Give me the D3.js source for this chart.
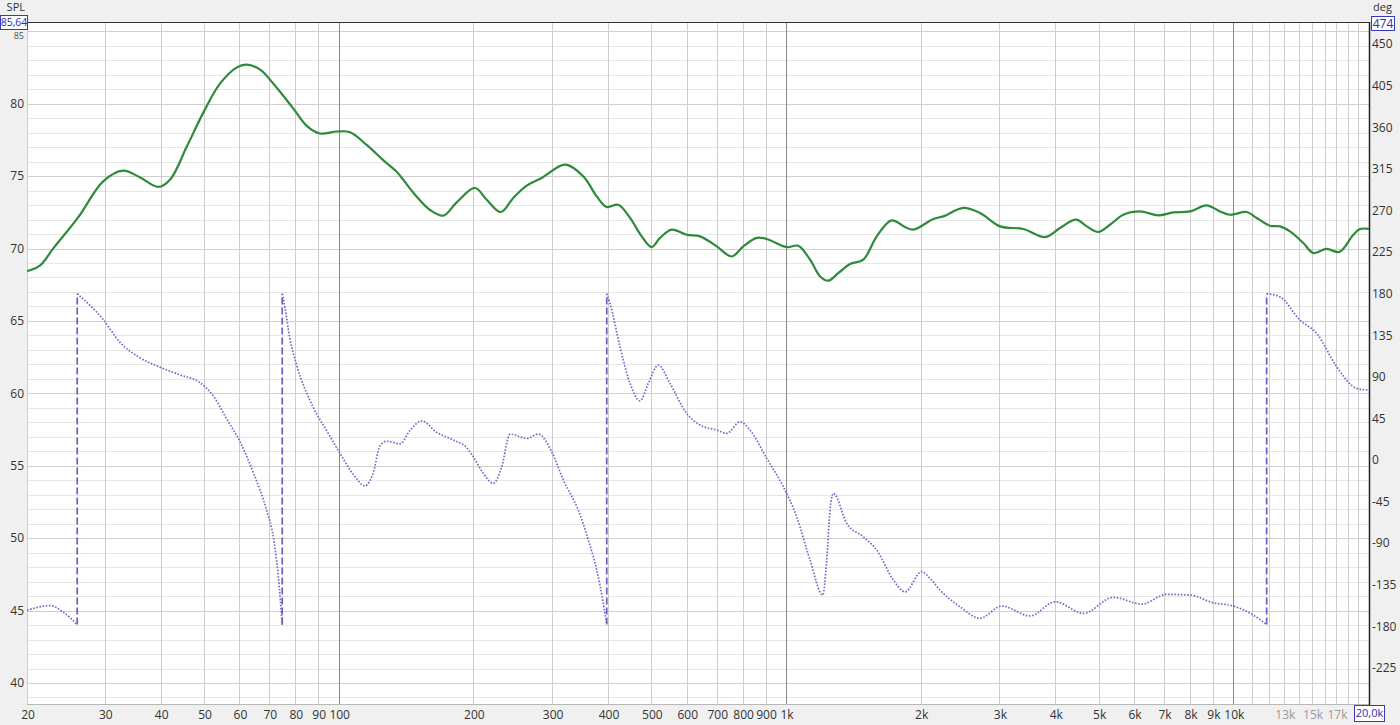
<!DOCTYPE html>
<html><head><meta charset="utf-8">
<script src="https://cdn.jsdelivr.net/npm/d3@7"></script>
<style>
html,body{margin:0;padding:0;background:#f0f0f0;}
svg{display:block;font-family:"Open Sans","Noto Sans",sans-serif;}
</style></head>
<body>
<svg id="chart" width="1400" height="725"></svg>
<script>
// ---------- DATA ----------
const splFreq = [20, 21.4, 22.9, 26.0, 29.6, 32.8, 35.8, 39.3, 41.8, 45.5, 49.6, 54.0, 58.9, 62.0, 66.4, 71.1, 78.8, 84.4, 90.4, 98.5, 105.5, 114.9, 125.1, 134.1, 146.1, 159.2, 170.5, 182.6, 200.7, 213.1, 229.1, 244.4, 261.9, 283.0, 319.0, 350.4, 375.5, 395.4, 419.7, 445.7, 473.3, 498.3, 520.1, 552.3, 596.7, 639.1, 696.6, 752.3, 798.5, 855.7, 900.9, 998.6, 1060, 1126, 1186, 1237, 1303, 1383, 1481, 1587, 1714, 1836, 1916, 2124, 2236, 2479, 2701, 2994, 3375, 3774, 4077, 4426, 4677, 4965, 5273, 5647, 6153, 6762, 7304, 7960, 8672, 9290, 9780, 10656, 11220, 12012, 12648, 13316, 14260, 15014, 16088, 17168, 18448, 19094, 20000];
const splDb = [68.43, 68.83, 70.01, 72.13, 74.64, 75.38, 74.90, 74.25, 74.77, 77.02, 79.40, 81.38, 82.51, 82.70, 82.35, 81.38, 79.66, 78.47, 77.94, 78.08, 78.03, 77.15, 76.10, 75.30, 73.85, 72.66, 72.27, 73.19, 74.18, 73.37, 72.52, 73.49, 74.34, 74.87, 75.79, 74.98, 73.60, 72.87, 73.02, 72.11, 70.84, 70.10, 70.73, 71.30, 70.95, 70.84, 70.15, 69.45, 70.15, 70.73, 70.66, 70.10, 70.19, 69.23, 68.07, 67.78, 68.31, 68.93, 69.23, 70.84, 71.94, 71.48, 71.30, 72.04, 72.22, 72.80, 72.45, 71.53, 71.35, 70.79, 71.42, 71.99, 71.53, 71.14, 71.64, 72.33, 72.56, 72.29, 72.49, 72.56, 72.98, 72.56, 72.33, 72.52, 72.11, 71.57, 71.53, 71.18, 70.38, 69.69, 69.97, 69.76, 70.95, 71.35, 71.35];

const phaseFreq = [20, 22.5, 24.1, 25.9, 25.9, 29.6, 32.3, 35.2, 39.7, 44.0, 48.7, 52.2, 55.9, 59.9, 64.1, 68.7, 71.1, 72.9, 74.4, 74.4, 75.5, 77.4, 80.2, 87.3, 93.5, 100.2, 107.3, 113.9, 118.9, 123.1, 127.4, 136.4, 143.6, 152.5, 164.8, 179.5, 192.3, 198.9, 209.5, 220.5, 230.3, 240.3, 261.9, 278.1, 297.9, 316.2, 341.5, 359.6, 375.5, 388.5, 395.4, 395.4, 402.0, 423.4, 445.7, 469.2, 489.7, 515.5, 547.5, 596.7, 639.1, 696.6, 733.1, 785.1, 826.7, 900.9, 981.3, 1051, 1126, 1202, 1227, 1248, 1270, 1360, 1481, 1587, 1729, 1836, 2000, 2088, 2198, 2437, 2701, 3020, 3493, 3974, 4596, 5363, 6207, 7060, 7960, 8972, 9948, 11026, 11810, 11810, 12648, 14020, 15280, 16940, 18772, 20000];
const phaseDeg = [-162.5, -157.5, -164.5, -178, 180, 152.1, 127.3, 112.8, 100.4, 92.1, 83.8, 69.3, 44.5, 19.7, -13.5, -54.8, -83.8, -125.3, -178, 180, 164.5, 131.4, 102.4, 56.9, 32.0, 7.2, -15.6, -27.9, -13.5, 15.5, 20.4, 17.6, 32.0, 42.4, 30.0, 21.7, 13.4, 3.6, -14.4, -25.2, -7.2, 28.1, 23.5, 28.1, 9.0, -21.6, -54.1, -86.5, -119.0, -155.0, -178, 180, 169.5, 122.6, 83.0, 64.1, 83.0, 102.8, 83.0, 50.5, 37.9, 32.5, 28.9, 41.4, 32.5, 1.8, -28.9, -61.3, -108.2, -146.0, -108.2, -54.1, -36.0, -68.5, -83.0, -97.4, -129.8, -142.5, -120.8, -128.0, -140.6, -158.7, -171.2, -157.9, -168.7, -153.3, -165.8, -148.5, -155.8, -145.3, -146.0, -154.4, -157.9, -167.7, -178, 180, 176.6, 151.4, 137.1, 100.9, 77.6, 75.7];

const xTickVals = [20, 30, 40, 50, 60, 70, 80, 90, 100, 200, 300, 400, 500, 600, 700, 800, 900, 1000, 2000, 3000, 4000, 5000, 6000, 7000, 8000, 9000, 10000, 13000, 15000, 17000];
const xTickLabels = ["20", "30", "40", "50", "60", "70", "80", "90", "100", "200", "300", "400", "500", "600", "700", "800", "900", "1k", "2k", "3k", "4k", "5k", "6k", "7k", "8k", "9k", "10k", "13k", "15k", "17k"];
const xFaintLabels = ["13k", "15k", "17k"];
const xGridVals = [30, 40, 50, 60, 70, 80, 90, 100, 200, 300, 400, 500, 600, 700, 800, 900, 1000, 2000, 3000, 4000, 5000, 6000, 7000, 8000, 9000, 10000, 11000, 12000, 13000, 14000, 15000, 16000, 17000, 18000, 19000];
const xMajorGrid = [100, 1000, 10000];
const splTicks = [40, 45, 50, 55, 60, 65, 70, 75, 80];
const splHiddenTick = 85;
const degTicks = [-225, -180, -135, -90, -45, 0, 45, 90, 135, 180, 225, 270, 315, 360, 405, 450];
const splTopLabel = "85,64", degTopLabel = "474", freqEndLabel = "20,0k";

// ---------- LAYOUT ----------
const L = 27, R = 1369, T = 22, B = 704;
const svg = d3.select("#chart");
const x = d3.scaleLog().domain([20, 20000]).range([L, R]);
const yL = d3.scaleLinear().domain([38.55, 85.64]).range([B, T]);
const yR = d3.scaleLinear().domain([-263.9, 474]).range([B, T]);

svg.append("rect").attr("x", L).attr("y", T).attr("width", R - L).attr("height", B - T).attr("fill", "#ffffff");

const grid = svg.append("g");
d3.range(39, 86, 1).forEach(v => {
  if (v % 5 === 0) return;
  grid.append("line").attr("x1", L).attr("x2", R).attr("y1", Math.round(yL(v)) + 0.5).attr("y2", Math.round(yL(v)) + 0.5)
    .attr("stroke", "#e6e6e6").attr("stroke-width", 1);
});
splTicks.concat([splHiddenTick]).forEach(v => {
  grid.append("line").attr("x1", L).attr("x2", R).attr("y1", Math.round(yL(v)) + 0.5).attr("y2", Math.round(yL(v)) + 0.5)
    .attr("stroke", "#cfcfcf").attr("stroke-width", 1);
});
xGridVals.forEach(v => {
  const major = xMajorGrid.includes(v);
  grid.append("line").attr("x1", Math.round(x(v)) - 0.5).attr("x2", Math.round(x(v)) - 0.5).attr("y1", T).attr("y2", B)
    .attr("stroke", major ? "#8a8a8a" : "#cdcdcd").attr("stroke-width", 1);
});
grid.append("line").attr("x1", L + 0.5).attr("x2", L + 0.5).attr("y1", T).attr("y2", B).attr("stroke", "#cdcdcd");
grid.append("line").attr("x1", L).attr("x2", R).attr("y1", B + 0.5).attr("y2", B + 0.5).attr("stroke", "#b8b8b8");
svg.append("line").attr("x1", L).attr("x2", R + 1).attr("y1", T + 0.5).attr("y2", T + 0.5).attr("stroke", "#303030").attr("stroke-width", 1.2);
svg.append("line").attr("x1", R + 0.5).attr("x2", R + 0.5).attr("y1", T).attr("y2", B + 1).attr("stroke", "#202020").attr("stroke-width", 1.5);

// ---------- AXES TEXT ----------
const txt = svg.append("g").attr("font-size", 12).attr("fill", "#333");
splTicks.forEach(v => {
  txt.append("text").attr("x", 24).attr("y", yL(v)).attr("dy", "0.35em").attr("text-anchor", "end").text(v);
});
// "85" sits just below the value box, partly visible as in the original
txt.append("text").attr("x", 24).attr("y", 38.5).attr("text-anchor", "end").attr("font-size", 9).attr("fill", "#555").text(splHiddenTick);
degTicks.forEach(v => {
  txt.append("text").attr("x", 1372).attr("y", yR(v)).attr("dy", "0.35em").attr("text-anchor", "start").text(v);
});
xTickVals.forEach((v, i) => {
  const lab = xTickLabels[i];
  txt.append("text").attr("x", x(v) + (i === 0 ? 1 : 0)).attr("y", 719).attr("text-anchor", "middle")
    .attr("fill", xFaintLabels.includes(lab) ? "#9a9a9a" : "#333").text(lab);
});
svg.append("text").attr("x", 25).attr("y", 11).attr("text-anchor", "end").attr("font-size", 11).attr("fill", "#333").text("SPL");
svg.append("text").attr("x", 1373).attr("y", 11).attr("text-anchor", "start").attr("font-size", 11).attr("fill", "#333").text("deg");

function boxLabel(cx, cy, w, h, s, fs) {
  svg.append("rect").attr("x", cx).attr("y", cy).attr("width", w).attr("height", h)
    .attr("fill", "#ffffff").attr("stroke", "#3a3ab8").attr("stroke-width", 1);
  svg.append("text").attr("x", cx + w / 2).attr("y", cy + h / 2).attr("dy", "0.36em").attr("text-anchor", "middle")
    .attr("font-size", fs).attr("fill", "#2b2bb0").text(s);
}
boxLabel(0.5, 15.5, 27, 14, splTopLabel, 10.5);
boxLabel(1371.5, 16.5, 23, 14, degTopLabel, 12);
boxLabel(1354.5, 705.5, 30, 16, freqEndLabel, 11);

// ---------- CURVES ----------
const splData = splFreq.map((f, i) => [f, splDb[i]]);
const splLine = d3.line().x(d => x(d[0])).y(d => yL(d[1])).curve(d3.curveCatmullRom.alpha(0.5));
svg.append("path").datum(splData).attr("d", splLine).attr("fill", "none")
  .attr("stroke", "#2f8a3b").attr("stroke-width", 2.2).attr("stroke-linejoin", "round");

const phaseData = phaseFreq.map((f, i) => [f, phaseDeg[i]]);
const segments = [[phaseData[0]]];
const jumps = [];
for (let i = 1; i < phaseData.length; i++) {
  if (Math.abs(phaseData[i][1] - phaseData[i - 1][1]) > 180) {
    jumps.push([phaseData[i - 1], phaseData[i]]);
    segments.push([phaseData[i]]);
  } else segments[segments.length - 1].push(phaseData[i]);
}
const phLine = d3.line().x(d => x(d[0])).y(d => yR(d[1])).curve(d3.curveMonotoneX);
segments.forEach(seg => {
  svg.append("path").datum(seg).attr("d", phLine).attr("fill", "none")
    .attr("stroke", "#7268c8").attr("stroke-width", 1.7).attr("stroke-dasharray", "1.6,1.6");
});
jumps.forEach(j => {
  svg.append("line").attr("x1", x(j[0][0])).attr("x2", x(j[1][0])).attr("y1", yR(j[0][1])).attr("y2", yR(j[1][1]))
    .attr("stroke", "#6a60c0").attr("stroke-width", 1.7).attr("stroke-dasharray", "7,3");
});
</script>
</body></html>
